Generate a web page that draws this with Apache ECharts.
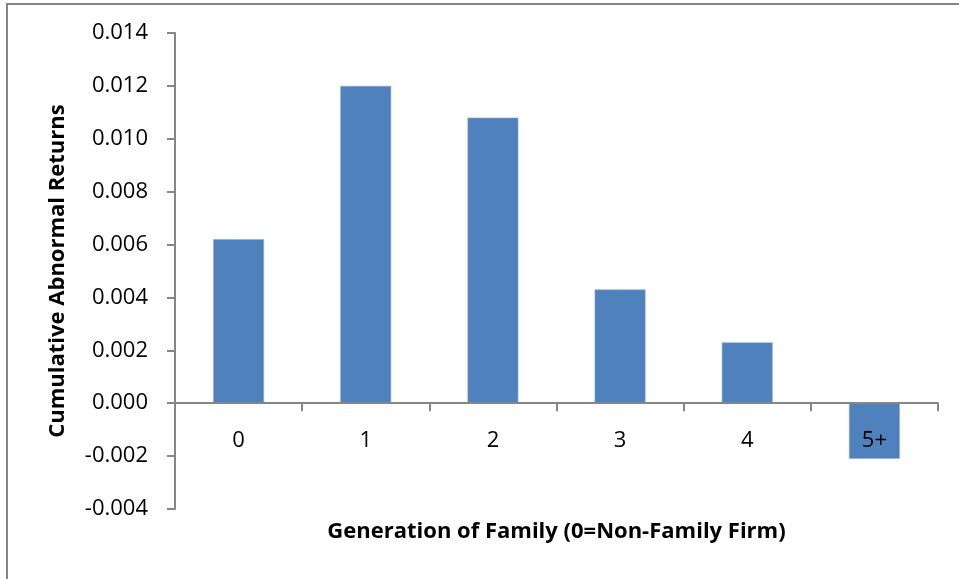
<!DOCTYPE html>
<html>
<head>
<meta charset="utf-8">
<script src="https://cdn.jsdelivr.net/npm/echarts@6/dist/echarts.min.js"></script>
<style>
  html, body { margin: 0; padding: 0; background: #fff; }
  #chart { width: 959px; height: 579px; }
</style>
</head>
<body>
<div id="chart"></div>
<script>
// Family generation groups and their cumulative abnormal returns
const generations = ['0', '1', '2', '3', '4', '5+'];
const carValues = [0.0062, 0.0120, 0.0108, 0.0043, 0.0023, -0.0021];
const yTicks = { min: -0.004, max: 0.014, interval: 0.002 };

const axisGray = '#868686';
const fontFam = '"Open Sans", "Liberation Sans", sans-serif';

const W = 959, H = 579;
const gridBox = { left: 175, right: 21, top: 33, bottom: 70 };
// Shift the category axis (line, ticks, labels, title) up to the zero line
const plotH = H - gridBox.top - gridBox.bottom;
const zeroOffset = -plotH * (0 - yTicks.min) / (yTicks.max - yTicks.min);

const chart = echarts.init(document.getElementById('chart'), null, { renderer: 'canvas' });

chart.setOption({
  animation: false,
  backgroundColor: '#ffffff',
  graphic: [{
    type: 'rect',
    shape: { x: 7, y: 4, width: 1000, height: 1000 },
    style: { fill: 'none', stroke: axisGray, lineWidth: 2 },
    silent: true
  }],
  grid: Object.assign({ containLabel: false, outerBoundsMode: 'none' }, gridBox),
  xAxis: {
    type: 'category',
    data: generations,
    z: 5,
    offset: zeroOffset,
    axisLine: { onZero: false, lineStyle: { color: axisGray, width: 2 } },
    axisTick: { show: true, alignWithLabel: false, length: 8, lineStyle: { color: axisGray, width: 2 } },
    axisLabel: { color: '#000', fontSize: 22, fontFamily: fontFam, margin: 27 },
    splitLine: { show: false },
    name: 'Generation of Family (0=Non-Family Firm)',
    nameLocation: 'middle',
    nameGap: 118,
    nameTextStyle: { color: '#000', fontSize: 22, fontWeight: 'bold', fontFamily: fontFam }
  },
  yAxis: {
    type: 'value',
    min: yTicks.min,
    max: yTicks.max,
    interval: yTicks.interval,
    axisLine: { show: true, lineStyle: { color: axisGray, width: 2 } },
    axisTick: { show: true, length: 8, lineStyle: { color: axisGray, width: 2 } },
    axisLabel: {
      color: '#000', fontSize: 22, fontFamily: fontFam, margin: 27,
      formatter: v => v.toFixed(3)
    },
    splitLine: { show: false },
    name: 'Cumulative Abnormal Returns',
    nameLocation: 'middle',
    nameGap: 106,
    nameRotate: 90,
    nameTextStyle: { color: '#000', fontSize: 22, fontWeight: 'bold', fontFamily: fontFam }
  },
  series: [{
    type: 'bar',
    data: carValues,
    barCategoryGap: '60%',
    itemStyle: { color: '#4F81BD', borderColor: '#8DA9D3', borderWidth: 0.6 },
    z: 2
  }]
});
</script>
</body>
</html>
